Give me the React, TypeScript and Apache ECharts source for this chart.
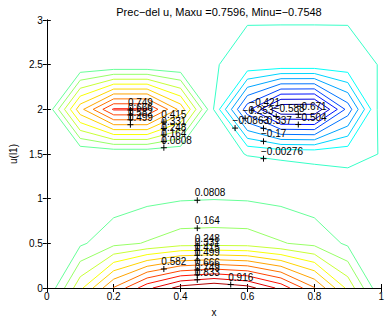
import React, { useEffect, useRef } from "react";
import * as echarts from "echarts";

const FONT = "'Liberation Sans', Arial, Helvetica, sans-serif";

// Contour levels (MATLAB jet colours, k/21 of the range)
const levelValues = [-0.671, -0.588, -0.504, -0.421, -0.337, -0.253, -0.17, -0.0863, -0.00276, 0.0808,
  0.164, 0.248, 0.331, 0.415, 0.499, 0.582, 0.666, 0.749, 0.833, 0.916];
const levelColors = ["#0000b0", "#0000e1", "#0012ff", "#0043ff", "#0073ff", "#00a4ff", "#00d4ff", "#06fff9", "#37ffc8", "#67ff98",
  "#98ff67", "#c8ff37", "#f9ff06", "#ffd400", "#ffa400", "#ff7300", "#ff4300", "#ff1200", "#e10000", "#b00000"];

// Left (positive) blob: levels 0.0808 .. 0.749
const leftLevels = [9, 10, 11, 12, 13, 14, 15, 16, 17];
const leftPaths = [
  [[0.0172, 2], [0.1, 2.414], [0.2, 2.447], [0.3, 2.447], [0.4, 2.414], [0.481, 2], [0.4, 1.586], [0.3, 1.553], [0.2, 1.553], [0.1, 1.586], [0.0172, 2]],
  [[0.0349, 2], [0.1, 2.326], [0.2, 2.392], [0.3, 2.392], [0.4, 2.326], [0.464, 2], [0.4, 1.674], [0.3, 1.608], [0.2, 1.608], [0.1, 1.674], [0.0349, 2]],
  [[0.0528, 2], [0.1, 2.236], [0.2, 2.337], [0.3, 2.337], [0.4, 2.236], [0.446, 2], [0.4, 1.764], [0.3, 1.663], [0.2, 1.663], [0.1, 1.764], [0.0528, 2]],
  [[0.0704, 2], [0.1, 2.148], [0.2, 2.282], [0.3, 2.282], [0.4, 2.148], [0.429, 2], [0.4, 1.852], [0.3, 1.718], [0.2, 1.718], [0.1, 1.852], [0.0704, 2]],
  [[0.0883, 2], [0.1, 2.059], [0.2, 2.227], [0.3, 2.227], [0.4, 2.059], [0.4115, 2], [0.4, 1.941], [0.3, 1.773], [0.2, 1.773], [0.1, 1.941], [0.0883, 2]],
  [[0.11, 2], [0.2, 2.172], [0.3, 2.172], [0.39, 2], [0.3, 1.828], [0.2, 1.828], [0.11, 2]],
  [[0.1386, 2], [0.2, 2.117], [0.3, 2.117], [0.3614, 2], [0.3, 1.883], [0.2, 1.883], [0.1386, 2]],
  [[0.1676, 2], [0.2, 2.062], [0.3, 2.062], [0.3324, 2], [0.3, 1.938], [0.2, 1.938], [0.1676, 2]],
  [[0.196, 2], [0.2, 2.007], [0.3, 2.007], [0.304, 2], [0.3, 1.993], [0.2, 1.993], [0.196, 2]],
];

// Right (negative) blob: levels -0.00276 .. -0.671
const rightLevels = [8, 7, 6, 5, 4, 3, 2, 1, 0];
const rightPaths = [
  [[0.4985, 2], [0.5157, 2.5], [0.6, 2.94], [0.7, 2.945], [0.8, 2.945], [0.9, 2.94], [0.988, 2.5], [0.988, 2], [0.99, 1.5], [0.9, 1.345], [0.8, 1.385], [0.7, 1.43], [0.6, 1.48], [0.59, 1.5], [0.4985, 2]],
  [[0.5163, 2], [0.6, 2.43], [0.7, 2.458], [0.8, 2.458], [0.9, 2.414], [0.969, 2], [0.9, 1.586], [0.8, 1.546], [0.7, 1.55], [0.6, 1.587], [0.5163, 2]],
  [[0.534, 2], [0.6, 2.338], [0.7, 2.4], [0.8, 2.401], [0.9, 2.3], [0.95, 2], [0.9, 1.7], [0.8, 1.603], [0.7, 1.607], [0.6, 1.675], [0.534, 2]],
  [[0.552, 2], [0.6, 2.247], [0.7, 2.343], [0.8, 2.344], [0.9, 2.187], [0.931, 2], [0.9, 1.813], [0.8, 1.659], [0.7, 1.663], [0.6, 1.763], [0.552, 2]],
  [[0.57, 2], [0.6, 2.155], [0.7, 2.285], [0.8, 2.286], [0.9, 2.072], [0.912, 2], [0.9, 1.928], [0.8, 1.716], [0.7, 1.72], [0.6, 1.851], [0.57, 2]],
  [[0.588, 2], [0.6, 2.063], [0.7, 2.227], [0.8, 2.229], [0.8915, 2], [0.8, 1.773], [0.7, 1.777], [0.6, 1.94], [0.588, 2]],
  [[0.6096, 2], [0.7, 2.17], [0.8, 2.172], [0.8688, 2], [0.8, 1.83], [0.7, 1.833], [0.6096, 2]],
  [[0.64, 2], [0.7, 2.112], [0.8, 2.114], [0.8457, 2], [0.8, 1.887], [0.7, 1.89], [0.64, 2]],
  [[0.671, 2], [0.7, 2.054], [0.8, 2.057], [0.823, 2], [0.8, 1.943], [0.7, 1.946], [0.671, 2]],
];

// Bottom (positive) blob: levels 0.0808 .. 0.916
const bottomLevels = [9, 10, 11, 12, 13, 14, 15, 16, 17, 18, 19];
const bottomPaths = [
  [[0.026, 0], [0.1, 0.4695], [0.12, 0.5], [0.2, 0.786], [0.3, 0.913], [0.4, 0.975], [0.5, 0.99], [0.6, 0.975], [0.7, 0.913], [0.8, 0.786], [0.88, 0.5], [0.9, 0.4695], [0.974, 0]],
  [[0.053, 0], [0.1, 0.298], [0.2, 0.473], [0.28, 0.5], [0.3, 0.528], [0.4, 0.664], [0.5, 0.677], [0.6, 0.664], [0.7, 0.528], [0.72, 0.5], [0.8, 0.473], [0.9, 0.298], [0.947, 0]],
  [[0.08, 0], [0.1, 0.126], [0.2, 0.379], [0.3, 0.439], [0.4, 0.473], [0.5, 0.4766], [0.6, 0.473], [0.7, 0.439], [0.8, 0.379], [0.9, 0.126], [0.92, 0]],
  [[0.108, 0], [0.2, 0.287], [0.3, 0.374], [0.4, 0.417], [0.5, 0.424], [0.6, 0.417], [0.7, 0.374], [0.8, 0.287], [0.892, 0]],
  [[0.138, 0], [0.2, 0.193], [0.3, 0.308], [0.4, 0.361], [0.5, 0.371], [0.6, 0.361], [0.7, 0.308], [0.8, 0.193], [0.862, 0]],
  [[0.168, 0], [0.2, 0.099], [0.3, 0.243], [0.4, 0.304], [0.5, 0.317], [0.6, 0.304], [0.7, 0.243], [0.8, 0.099], [0.832, 0]],
  [[0.198, 0], [0.2, 0.0067], [0.3, 0.178], [0.4, 0.248], [0.5, 0.265], [0.6, 0.248], [0.7, 0.178], [0.8, 0.0067], [0.802, 0]],
  [[0.235, 0], [0.3, 0.112], [0.4, 0.192], [0.5, 0.212], [0.6, 0.192], [0.7, 0.112], [0.765, 0]],
  [[0.273, 0], [0.3, 0.047], [0.4, 0.136], [0.5, 0.159], [0.6, 0.136], [0.7, 0.047], [0.727, 0]],
  [[0.317, 0], [0.4, 0.079], [0.5, 0.106], [0.6, 0.079], [0.683, 0]],
  [[0.375, 0], [0.4, 0.024], [0.5, 0.053], [0.6, 0.024], [0.625, 0]],
];

// Contour labels (clabel "+" marks and texts)
const labelText = [
  "0.749", "0.666", "0.582", "0.499", "0.415", "0.331", "0.248", "0.164", "0.0808",
  "−0.421", "−0.253", "−0.0863", "−0.337", "−0.588", "−0.671", "−0.504", "−0.17", "−0.00276",
  "0.0808", "0.164", "0.248", "0.331", "0.415", "0.499", "0.582", "0.666", "0.749", "0.833", "0.916",
];
const labelX = [
  0.25, 0.25, 0.25, 0.25, 0.35, 0.35, 0.35, 0.35, 0.35,
  0.613, 0.593, 0.563, 0.648, 0.686, 0.752, 0.752, 0.648, 0.648,
  0.45, 0.45, 0.45, 0.45, 0.45, 0.45, 0.35, 0.45, 0.45, 0.45, 0.55,
];
const labelY = [
  1.993, 1.938, 1.883, 1.828, 1.857, 1.785, 1.714, 1.641, 1.57,
  1.99, 1.9, 1.79, 1.787, 1.92, 1.945, 1.83, 1.642, 1.448,
  0.982, 0.67, 0.475, 0.42, 0.366, 0.31, 0.213, 0.202, 0.147, 0.092, 0.0385,
];

const titleText = "Prec−del u, Maxu =0.7596, Minu=−0.7548";
const xName = "x";
const yName = "u(l1)";

export default function App() {
  const ref = useRef<HTMLDivElement>(null);
  useEffect(() => {
    if (!ref.current) return;
    const chart = echarts.init(ref.current, undefined, { renderer: "svg" });
    const lineSeries = (paths: number[][][], levels: number[]) =>
      paths.map((p, i) => ({
        type: "line",
        data: p,
        showSymbol: false,
        symbol: "none",
        silent: true,
        animation: false,
        lineStyle: { color: levelColors[levels[i]], width: 1 },
        itemStyle: { color: levelColors[levels[i]] },
        z: 2,
      }));
    const axisCommon = {
      axisLine: { show: true, lineStyle: { color: "#000", width: 1 } },
      axisTick: { show: true, inside: true, length: 4, lineStyle: { color: "#000", width: 1 } },
      splitLine: { show: false },
    };
    const option: any = {
      animation: false,
      backgroundColor: "#fff",
      title: {
        text: titleText,
        left: 214,
        top: 1,
        textAlign: "center",
        textStyle: { fontSize: 11, fontWeight: "normal", color: "#000", fontFamily: FONT },
      },
      grid: { left: 42, top: 20, width: 344, height: 272, show: false },
      xAxis: [
        {
          type: "value", min: 0, max: 1, interval: 0.2, position: "bottom",
          name: xName, nameLocation: "middle", nameGap: 19,
          nameTextStyle: { fontSize: 10, color: "#000", fontFamily: FONT },
          axisLabel: { fontSize: 10, color: "#000", margin: 3, fontFamily: FONT },
          ...axisCommon,
        },
        {
          type: "value", min: 0, max: 1, interval: 0.2, position: "top",
          axisLabel: { show: false },
          ...axisCommon,
        },
      ],
      yAxis: [
        {
          type: "value", min: 0, max: 3, interval: 0.5, position: "left",
          name: yName, nameLocation: "middle", nameGap: 22, nameRotate: 90,
          nameTextStyle: { fontSize: 10, color: "#000", fontFamily: FONT },
          axisLabel: { fontSize: 10, color: "#000", margin: 4, fontFamily: FONT },
          ...axisCommon,
        },
        {
          type: "value", min: 0, max: 3, interval: 0.5, position: "right",
          axisLabel: { show: false },
          ...axisCommon,
        },
      ],
      series: [
        ...lineSeries(leftPaths, leftLevels),
        ...lineSeries(rightPaths, rightLevels),
        ...lineSeries(bottomPaths, bottomLevels),
        {
          type: "scatter",
          data: labelText.map((t, i) => ({ value: [labelX[i], labelY[i]], name: t })),
          symbol: "path://M0,5L10,5M5,0L5,10",
          symbolSize: 6,
          silent: true,
          itemStyle: { color: "none", borderColor: "#000", borderWidth: 1, opacity: 1 },
          label: {
            show: true,
            formatter: "{b}",
            position: [3, 3],
            align: "left",
            verticalAlign: "bottom",
            fontSize: 10,
            color: "#000",
            fontFamily: FONT,
          },
          z: 5,
        },
      ],
    };
    chart.setOption(option);
    return () => chart.dispose();
  }, []);
  return (
    <div
      ref={ref}
      style={{ position: "fixed", left: 0, top: 0, width: 387, height: 322, background: "#fff" }}
    />
  );
}
